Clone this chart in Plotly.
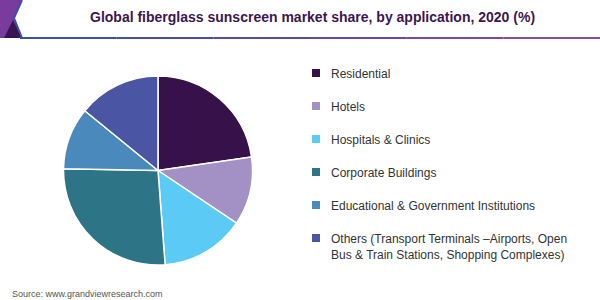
import plotly.graph_objects as go

labels = [
    "Residential",
    "Hotels",
    "Hospitals & Clinics",
    "Corporate Buildings",
    "Educational & Government Institutions",
    "Others (Transport Terminals –Airports, Open<br>Bus & Train Stations, Shopping Complexes)",
]
values = [22.7, 11.7, 14.4, 26.5, 10.6, 14.1]
colors = ["#37114a", "#a390c4", "#5bcbf5", "#2e7487", "#4a89bb", "#4a55a3"]

title_text = "Global fiberglass sunscreen market share, by application, 2020 (%)"
source_text = "Source: www.grandviewresearch.com"

W, H = 600, 300

fig = go.Figure()
fig.add_trace(go.Pie(
    labels=labels,
    values=values,
    marker=dict(colors=colors, line=dict(color="white", width=1.5)),
    sort=False,
    direction="clockwise",
    rotation=0,
    textinfo="none",
    hoverinfo="label+percent",
    showlegend=False,
    domain=dict(x=[63.5 / W, 252.5 / W], y=[1 - 265 / H, 1 - 76 / H]),
))

# manual legend
row_y = [73, 106, 139, 172, 205, 238]
shapes = []
annotations = []
for i, (lab, col) in enumerate(zip(labels, colors)):
    y = row_y[i]
    shapes.append(dict(type="rect", xref="paper", yref="paper",
                       x0=312 / W, x1=320 / W, y0=1 - (y + 4) / H, y1=1 - (y - 4) / H,
                       fillcolor=col, line=dict(width=0)))
    annotations.append(dict(x=329 / W, y=1 - (y - 8) / H, xref="paper", yref="paper",
                            text=lab, showarrow=False, xanchor="left", yanchor="top",
                            align="left",
                            font=dict(family="Liberation Sans, Arial", size=12, color="#333333")))

# title & source
annotations.append(dict(x=312 / W, y=1 - 17 / H, xref="paper", yref="paper", text="<b>" + title_text + "</b>",
                        showarrow=False, xanchor="center", yanchor="middle",
                        font=dict(family="Liberation Sans, Arial", size=14, color="#3c1650")))
annotations.append(dict(x=10 / W, y=1 - 294 / H, xref="paper", yref="paper", text=source_text,
                        showarrow=False, xanchor="left", yanchor="middle",
                        font=dict(family="Liberation Sans, Arial", size=9, color="#555555")))

# header decorations
shapes.append(dict(type="path", xref="paper", yref="paper",
                   path="M 0 1 L %f 1 L %f %f L %f %f L 0 %f Z" % (22 / W, 14 / W, 1 - 18 / H, 22 / W, 1 - 38 / H, 1 - 38 / H),
                   fillcolor="#7a3c9c", line=dict(width=0)))
shapes.append(dict(type="path", xref="paper", yref="paper",
                   path="M %f %f L %f %f L %f %f Z" % (4 / W, 1 - 38 / H, 22 / W, 1 - 38 / H, 13 / W, 1 - 20 / H),
                   fillcolor="#3a1450", line=dict(width=0)))
shapes.append(dict(type="path", xref="paper", yref="paper",
                   path="M %f 1 L %f %f L %f %f" % (22 / W, 14 / W, 1 - 18 / H, 22 / W, 1 - 38 / H),
                   line=dict(color="#3b4fa8", width=2)))
seg_cols = ["#3b4fa8", "#4a4ca8", "#5a4aa8", "#6a48a8", "#7a48aa", "#8a4aae"]
n = len(seg_cols)
for k, c in enumerate(seg_cols):
    x0 = 20 + (W - 20) * k / n
    x1 = 20 + (W - 20) * (k + 1) / n
    shapes.append(dict(type="line", xref="paper", yref="paper",
                       x0=x0 / W, x1=x1 / W, y0=1 - 38 / H, y1=1 - 38 / H,
                       line=dict(color=c, width=2)))

fig.update_layout(
    width=W, height=H,
    margin=dict(l=0, r=0, t=0, b=0),
    paper_bgcolor="white",
    plot_bgcolor="white",
    shapes=shapes,
    annotations=annotations,
)

fig.write_html("out.html")
